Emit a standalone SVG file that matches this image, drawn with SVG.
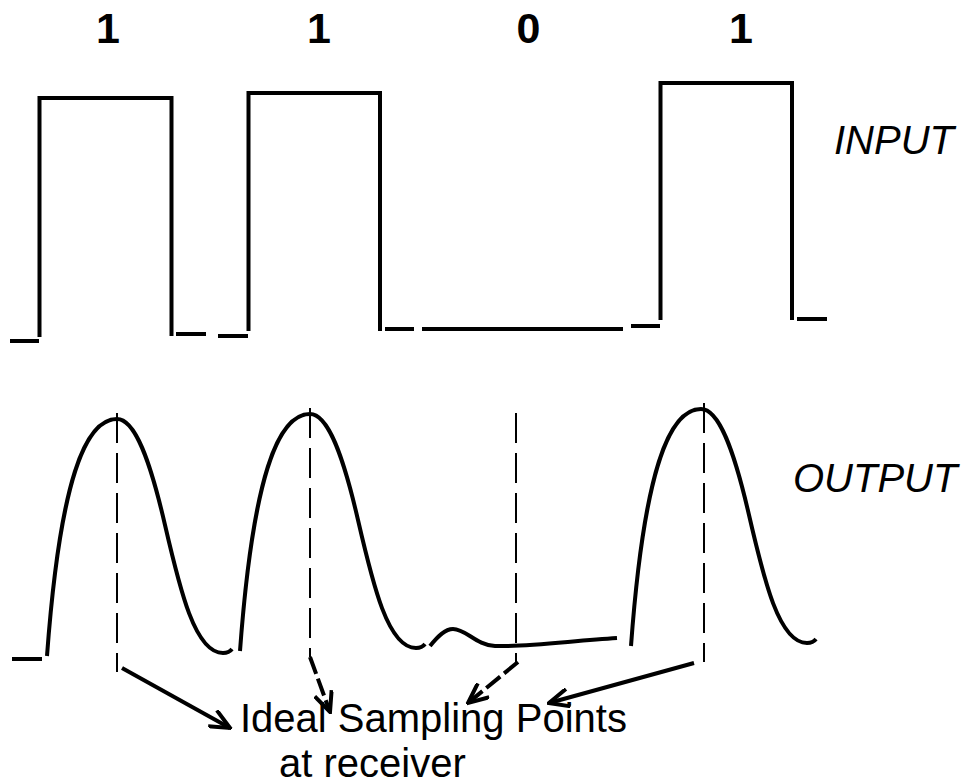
<svg xmlns="http://www.w3.org/2000/svg" width="961" height="784" viewBox="0 0 961 784">
  <style>
    .wave { fill: none; stroke: #000; stroke-width: 4; stroke-linecap: butt; stroke-linejoin: miter; }
    .samp { fill: none; stroke: #000; stroke-width: 2; stroke-dasharray: 30 10; }
    .arrow { fill: none; stroke: #000; stroke-width: 4; marker-end: url(#head); }
    .dash { stroke-dasharray: 18 5; }
    .bit { font-family: "Liberation Sans", Arial, sans-serif; font-weight: bold; font-size: 43px; text-anchor: middle; fill: #000; }
    .side { font-family: "Liberation Sans", Arial, sans-serif; font-style: italic; font-size: 40px; fill: #000; }
    .cap { font-family: "Liberation Sans", Arial, sans-serif; font-size: 40px; fill: #000; }
  </style>
  <defs>
    <marker id="head" viewBox="0 0 24 20" refX="22" refY="10" markerWidth="24" markerHeight="20" markerUnits="userSpaceOnUse" orient="auto">
      <path d="M2,1 L22,10 L2,19" fill="none" stroke="#000" stroke-width="4"/>
    </marker>
    <path id="pulse" d="M47,656 C60,480 85,419 117,419 C135,419 150,460 165,525 C180,590 195,653 223,653 Q229,653 232,649"/>
  </defs>
  <rect width="961" height="784" fill="#fff"/>

  <g id="bits">
    <text class="bit" x="108" y="43">1</text>
    <text class="bit" x="319" y="43">1</text>
    <text class="bit" x="528.5" y="43">0</text>
    <text class="bit" x="741" y="43">1</text>
  </g>

  <g id="input-label"><text class="side" x="834" y="154">INPUT</text></g>
  <g id="output-label"><text class="side" x="793" y="492">OUTPUT</text></g>

  <g id="input-wave" class="wave">
    <path d="M10,341 H39"/>
    <path d="M39.5,337 V98 H171.5 V336"/>
    <path d="M176,334 H206"/>
    <path d="M218,336 H248"/>
    <path d="M248.5,331 V93 H380 V331"/>
    <path d="M385,329 H414"/>
    <path d="M422,329 H623"/>
    <path d="M631,326 H660"/>
    <path d="M660.5,320 V83 H792 V320"/>
    <path d="M797,319 H827"/>
  </g>

  <g id="output-wave" class="wave">
    <path d="M12,659 H42"/>
    <use href="#pulse"/>
    <use href="#pulse" transform="translate(193,-5)"/>
    <path d="M430,646 C438,636 445,629 453,629 C466,629 476,645 495,646 C525,647 570,641 617,638"/>
    <use href="#pulse" transform="translate(584,-10)"/>
  </g>

  <g id="sampling-lines" class="samp">
    <line x1="117" y1="413" x2="117" y2="672"/>
    <line x1="310" y1="408" x2="310" y2="657"/>
    <line x1="516" y1="413" x2="516" y2="662"/>
    <line x1="704" y1="403" x2="704" y2="662"/>
  </g>

  <g id="connectors">
    <line class="arrow" x1="122" y1="668" x2="230" y2="728"/>
    <line class="arrow dash" x1="310" y1="657" x2="330" y2="712"/>
    <line class="arrow dash" x1="518" y1="662" x2="468" y2="703"/>
    <line class="arrow" x1="694" y1="663" x2="549" y2="703"/>
  </g>

  <g id="caption">
    <text class="cap" x="240" y="732">Ideal Sampling Points</text>
    <text class="cap" x="279" y="777">at receiver</text>
  </g>
</svg>
